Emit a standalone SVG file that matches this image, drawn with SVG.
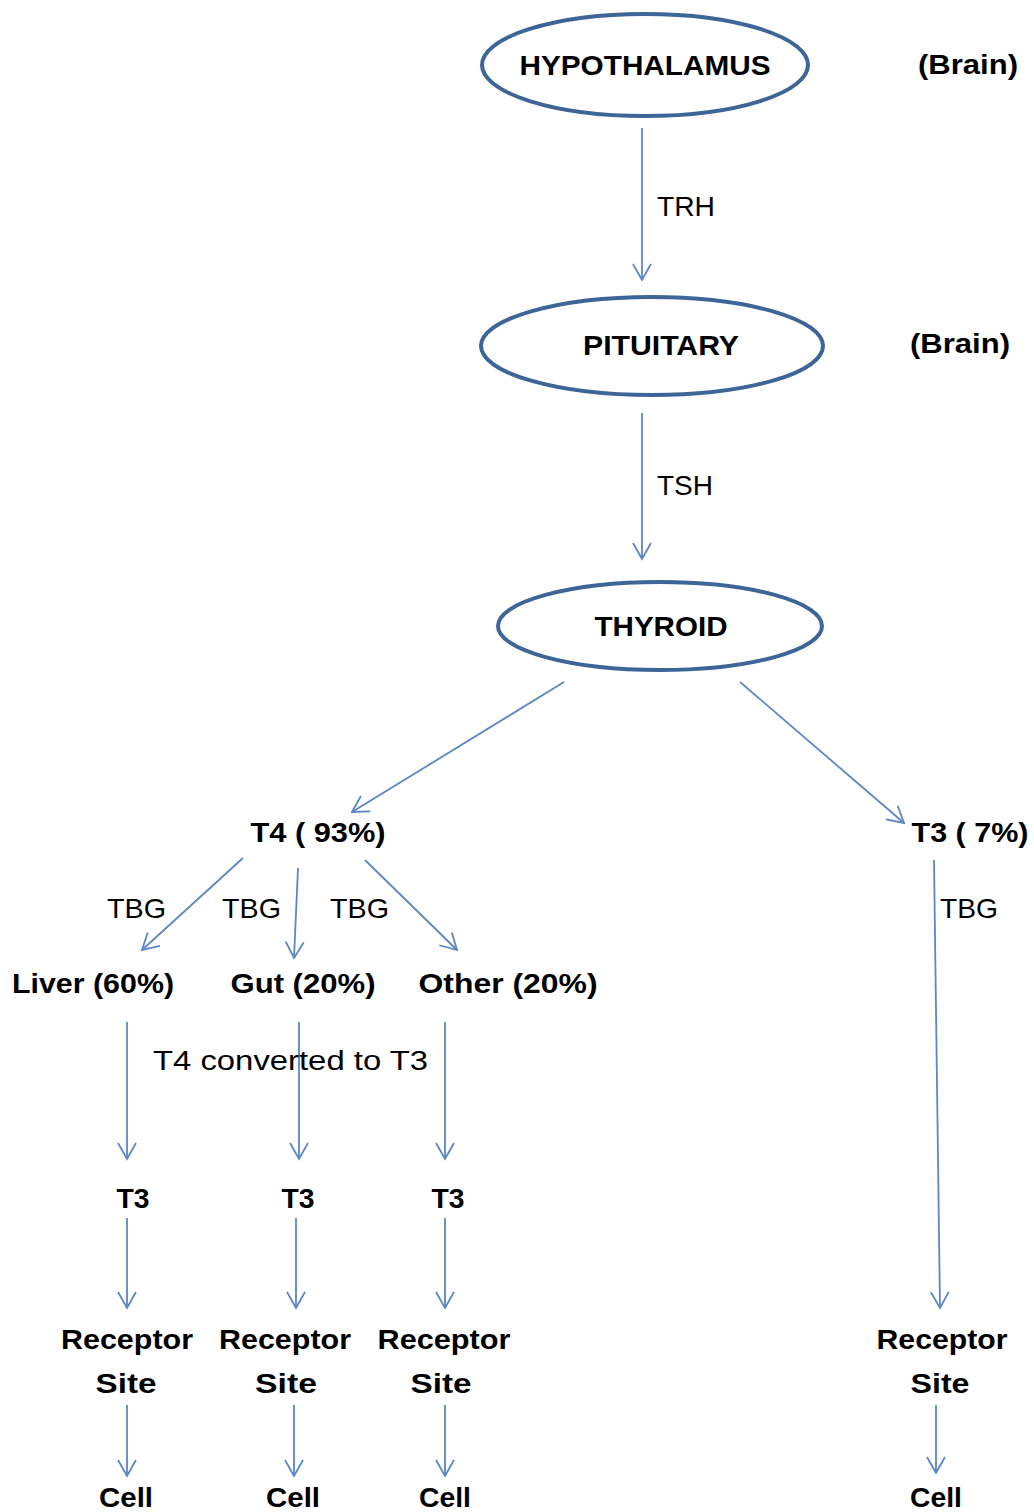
<svg xmlns="http://www.w3.org/2000/svg" width="1034" height="1512" viewBox="0 0 1034 1512">
<style>
.node{fill:none;stroke:#3e6597;stroke-width:4}
.b{font-family:"Liberation Sans",Arial,sans-serif;font-weight:bold;font-size:28.5px;fill:#000}
.r{font-family:"Liberation Sans",Arial,sans-serif;font-size:27.5px;fill:#000}
.c{fill:none;stroke:#5b87c3;stroke-width:1.8}
</style>
<defs>
<marker id="ah" viewBox="0 0 20 20" refX="18" refY="10" markerWidth="20" markerHeight="20" markerUnits="userSpaceOnUse" orient="auto">
<path d="M2,1 L18,10 L2,19" fill="none" stroke="#5b87c3" stroke-width="1.8"/>
</marker>
</defs>
<rect width="1034" height="1512" fill="#fff"/>
<g id="hypothalamus"><ellipse class="node" cx="645" cy="65" rx="163" ry="51"/><text class="b" x="645" y="75" text-anchor="middle" textLength="251" lengthAdjust="spacingAndGlyphs">HYPOTHALAMUS</text></g>
<g id="brain1"><text class="b" x="968" y="74" text-anchor="middle" textLength="100" lengthAdjust="spacingAndGlyphs">(Brain)</text></g>
<g id="pituitary"><ellipse class="node" cx="652" cy="346" rx="171" ry="49"/><text class="b" x="661" y="355" text-anchor="middle" textLength="156" lengthAdjust="spacingAndGlyphs">PITUITARY</text></g>
<g id="brain2"><text class="b" x="960" y="353" text-anchor="middle" textLength="100" lengthAdjust="spacingAndGlyphs">(Brain)</text></g>
<g id="thyroid"><ellipse class="node" cx="660" cy="626" rx="162" ry="44"/><text class="b" x="661" y="636" text-anchor="middle" textLength="133" lengthAdjust="spacingAndGlyphs">THYROID</text></g>
<g id="t4"><text class="b" x="318" y="842" text-anchor="middle" textLength="135" lengthAdjust="spacingAndGlyphs">T4 ( 93%)</text></g>
<g id="t3main"><text class="b" x="970" y="842" text-anchor="middle" textLength="117" lengthAdjust="spacingAndGlyphs">T3 ( 7%)</text></g>
<g id="liver"><text class="b" x="93" y="993" text-anchor="middle" textLength="162" lengthAdjust="spacingAndGlyphs">Liver (60%)</text></g>
<g id="gut"><text class="b" x="303" y="993" text-anchor="middle" textLength="145" lengthAdjust="spacingAndGlyphs">Gut (20%)</text></g>
<g id="other"><text class="b" x="508" y="993" text-anchor="middle" textLength="179" lengthAdjust="spacingAndGlyphs">Other (20%)</text></g>
<g id="t3a"><text class="b" x="133" y="1208" text-anchor="middle" textLength="33" lengthAdjust="spacingAndGlyphs">T3</text></g>
<g id="t3b"><text class="b" x="298" y="1208" text-anchor="middle" textLength="33" lengthAdjust="spacingAndGlyphs">T3</text></g>
<g id="t3c"><text class="b" x="448" y="1208" text-anchor="middle" textLength="33" lengthAdjust="spacingAndGlyphs">T3</text></g>
<g id="receptor1"><text class="b" x="127" y="1349" text-anchor="middle" textLength="132" lengthAdjust="spacingAndGlyphs">Receptor</text><text class="b" x="126" y="1393" text-anchor="middle" textLength="61" lengthAdjust="spacingAndGlyphs">Site</text></g>
<g id="receptor2"><text class="b" x="285" y="1349" text-anchor="middle" textLength="132" lengthAdjust="spacingAndGlyphs">Receptor</text><text class="b" x="286" y="1393" text-anchor="middle" textLength="62" lengthAdjust="spacingAndGlyphs">Site</text></g>
<g id="receptor3"><text class="b" x="444" y="1349" text-anchor="middle" textLength="133" lengthAdjust="spacingAndGlyphs">Receptor</text><text class="b" x="441" y="1393" text-anchor="middle" textLength="61" lengthAdjust="spacingAndGlyphs">Site</text></g>
<g id="receptor4"><text class="b" x="942" y="1349" text-anchor="middle" textLength="131" lengthAdjust="spacingAndGlyphs">Receptor</text><text class="b" x="940" y="1393" text-anchor="middle" textLength="59" lengthAdjust="spacingAndGlyphs">Site</text></g>
<g id="cell1"><text class="b" x="126" y="1507" text-anchor="middle" textLength="54" lengthAdjust="spacingAndGlyphs">Cell</text></g>
<g id="cell2"><text class="b" x="293" y="1507" text-anchor="middle" textLength="54" lengthAdjust="spacingAndGlyphs">Cell</text></g>
<g id="cell3"><text class="b" x="445" y="1507" text-anchor="middle" textLength="52" lengthAdjust="spacingAndGlyphs">Cell</text></g>
<g id="cell4"><text class="b" x="936" y="1507" text-anchor="middle" textLength="52" lengthAdjust="spacingAndGlyphs">Cell</text></g>
<g id="connectors">
<line class="c" x1="642" y1="128" x2="642" y2="280" marker-end="url(#ah)"/>
<line class="c" x1="642" y1="413" x2="642" y2="559" marker-end="url(#ah)"/>
<line class="c" x1="564" y1="682" x2="352" y2="812" marker-end="url(#ah)"/>
<line class="c" x1="740" y1="682" x2="904" y2="823" marker-end="url(#ah)"/>
<line class="c" x1="243" y1="858" x2="142" y2="950" marker-end="url(#ah)"/>
<line class="c" x1="298" y1="868" x2="294" y2="958" marker-end="url(#ah)"/>
<line class="c" x1="365" y1="860" x2="457" y2="950" marker-end="url(#ah)"/>
<line class="c" x1="934" y1="860" x2="940" y2="1308" marker-end="url(#ah)"/>
<line class="c" x1="127" y1="1022" x2="127" y2="1159" marker-end="url(#ah)"/>
<line class="c" x1="299" y1="1022" x2="299" y2="1159" marker-end="url(#ah)"/>
<line class="c" x1="445" y1="1022" x2="445" y2="1159" marker-end="url(#ah)"/>
<line class="c" x1="127" y1="1218" x2="127" y2="1308" marker-end="url(#ah)"/>
<line class="c" x1="296" y1="1218" x2="296" y2="1308" marker-end="url(#ah)"/>
<line class="c" x1="445" y1="1218" x2="445" y2="1308" marker-end="url(#ah)"/>
<line class="c" x1="127" y1="1405" x2="127" y2="1476" marker-end="url(#ah)"/>
<line class="c" x1="294" y1="1405" x2="294" y2="1476" marker-end="url(#ah)"/>
<line class="c" x1="445" y1="1405" x2="445" y2="1476" marker-end="url(#ah)"/>
<line class="c" x1="936" y1="1405" x2="936" y2="1473" marker-end="url(#ah)"/>
<text class="r" x="657" y="216" textLength="58" lengthAdjust="spacingAndGlyphs">TRH</text>
<text class="r" x="657" y="495" textLength="56" lengthAdjust="spacingAndGlyphs">TSH</text>
<text class="r" x="107" y="918" textLength="59" lengthAdjust="spacingAndGlyphs">TBG</text>
<text class="r" x="222" y="918" textLength="59" lengthAdjust="spacingAndGlyphs">TBG</text>
<text class="r" x="330" y="918" textLength="59" lengthAdjust="spacingAndGlyphs">TBG</text>
<text class="r" x="940" y="918" textLength="58" lengthAdjust="spacingAndGlyphs">TBG</text>
<text class="r" x="153" y="1070" textLength="275" lengthAdjust="spacingAndGlyphs">T4 converted to T3</text>
</g>
</svg>
